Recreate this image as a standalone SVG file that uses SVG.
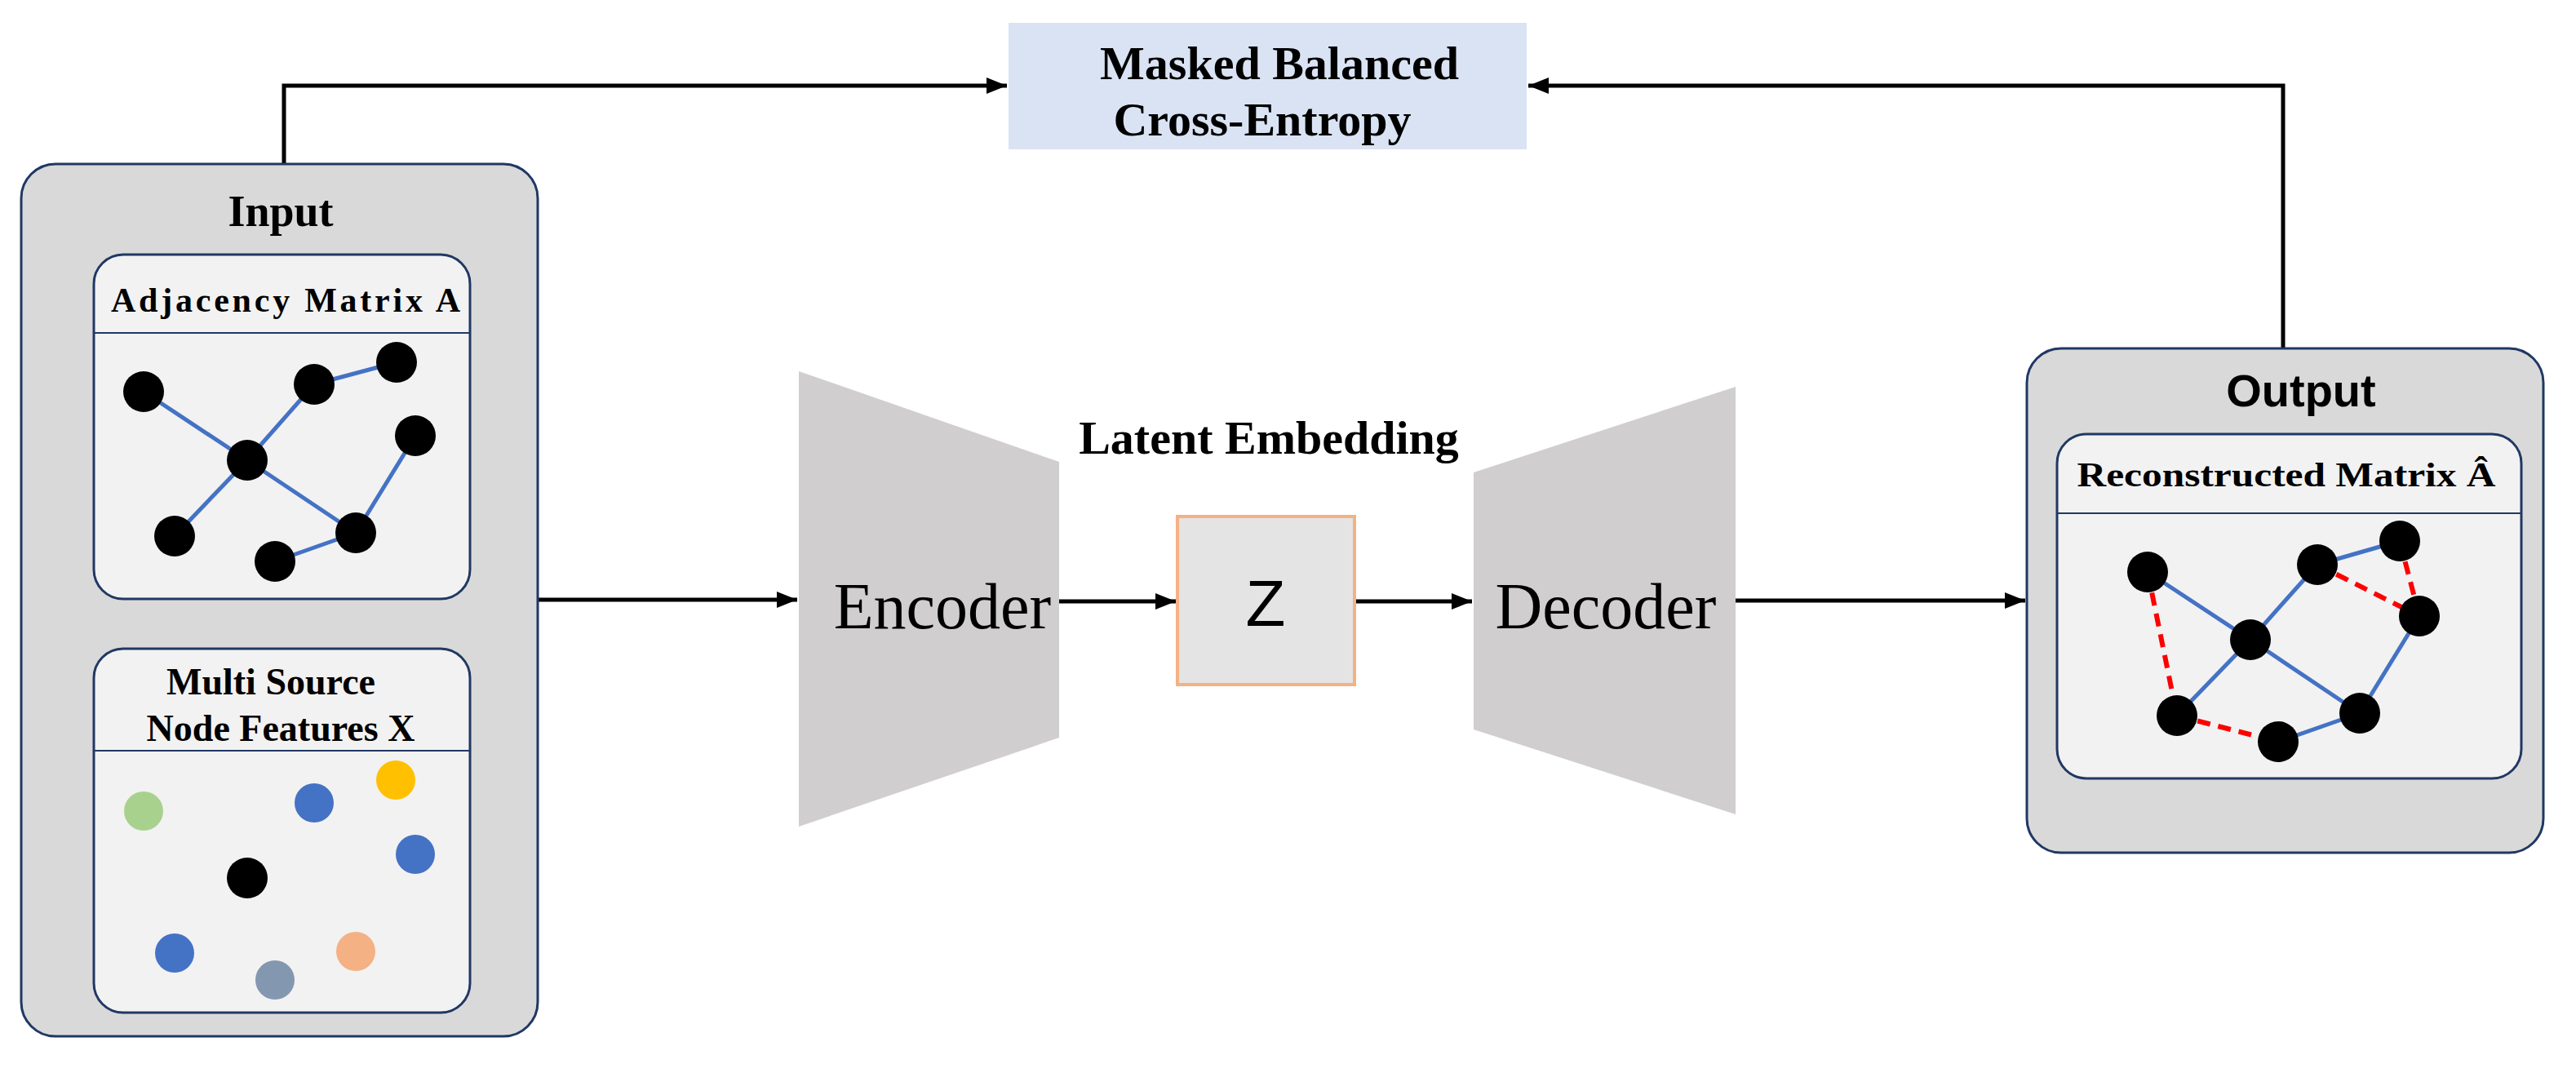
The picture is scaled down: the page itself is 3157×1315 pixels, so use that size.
<svg xmlns="http://www.w3.org/2000/svg" width="3157" height="1315" viewBox="0 0 3157 1315">
<style>
.outer{fill:#d9d9d9;stroke:#203864;stroke-width:3}
.inner{fill:#f2f2f2;stroke:#203864;stroke-width:3}
.hl{stroke:#203864;stroke-width:2}
.conn{fill:none;stroke:#000;stroke-width:5}
.be{stroke:#4472c4;stroke-width:5}
.re{stroke:#ff0000;stroke-width:6;stroke-dasharray:16 10}
.nd{fill:#000}
.serifb{font-family:"Liberation Serif",serif;font-weight:bold;fill:#000}
.trap{fill:#d0cece}
</style>
<defs>
<marker id="arr" viewBox="0 0 10 10" refX="10" refY="5" markerWidth="5" markerHeight="5" orient="auto" markerUnits="strokeWidth">
<path d="M0,1 L10,5 L0,9 z" fill="#000"/>
</marker>
</defs>
<g id="connectors">
<polyline class="conn" points="348,201 348,105 1234,105" marker-end="url(#arr)"/>
<polyline class="conn" points="2798,427 2798,105 1873,105" marker-end="url(#arr)"/>
<line class="conn" x1="659" y1="735" x2="977" y2="735" marker-end="url(#arr)"/>
<line class="conn" x1="1298" y1="737" x2="1441" y2="737" marker-end="url(#arr)"/>
<line class="conn" x1="1660" y1="737" x2="1804" y2="737" marker-end="url(#arr)"/>
<line class="conn" x1="2127" y1="736" x2="2482" y2="736" marker-end="url(#arr)"/>
</g>
<g id="loss">
<rect x="1236" y="28" width="635" height="155" fill="#dae3f3"/>
<text class="serifb" x="1568" y="97" font-size="58" text-anchor="middle">Masked Balanced</text>
<text class="serifb" x="1547" y="166" font-size="58" text-anchor="middle">Cross-Entropy</text>
</g>
<g id="input">
<rect class="outer" x="26" y="201" width="633" height="1069" rx="42"/>
<text class="serifb" x="344" y="277" font-size="54" text-anchor="middle">Input</text>
<g id="adjacency">
<rect class="inner" x="115" y="312" width="461" height="422" rx="36"/>
<line class="hl" x1="115" y1="408" x2="576" y2="408"/>
<text class="serifb" x="350" y="382" font-size="42" text-anchor="middle" textLength="428" lengthAdjust="spacing">Adjacency Matrix A</text>
<g>
<line class="be" x1="176" y1="480" x2="303" y2="564"/>
<line class="be" x1="303" y1="564" x2="385" y2="471"/>
<line class="be" x1="385" y1="471" x2="486" y2="444"/>
<line class="be" x1="303" y1="564" x2="214" y2="657"/>
<line class="be" x1="303" y1="564" x2="436" y2="653"/>
<line class="be" x1="436" y1="653" x2="509" y2="534"/>
<line class="be" x1="436" y1="653" x2="337" y2="688"/>
</g>
<g class="nd">
<circle cx="176" cy="480" r="25"/><circle cx="385" cy="471" r="25"/><circle cx="486" cy="444" r="25"/><circle cx="303" cy="564" r="25"/>
<circle cx="509" cy="534" r="25"/><circle cx="214" cy="657" r="25"/><circle cx="436" cy="653" r="25"/><circle cx="337" cy="688" r="25"/>
</g>
</g>
<g id="features">
<rect class="inner" x="115" y="795" width="461" height="446" rx="36"/>
<line class="hl" x1="115" y1="920" x2="576" y2="920"/>
<text class="serifb" x="332" y="851" font-size="46" text-anchor="middle">Multi Source</text>
<text class="serifb" x="344" y="908" font-size="46" text-anchor="middle">Node Features X</text>
<circle cx="176" cy="994" r="24" fill="#a9d18e"/>
<circle cx="385" cy="984" r="24" fill="#4472c4"/>
<circle cx="485" cy="956" r="24" fill="#ffc000"/>
<circle cx="509" cy="1047" r="24" fill="#4472c4"/>
<circle cx="303" cy="1076" r="25" fill="#000"/>
<circle cx="214" cy="1168" r="24" fill="#4472c4"/>
<circle cx="337" cy="1201" r="24" fill="#8497b0"/>
<circle cx="436" cy="1166" r="24" fill="#f4b183"/>
</g>
</g>
<g id="encoder">
<polygon class="trap" points="979,455 1298,566 1298,904 979,1013"/>
<text x="1155" y="770" font-family="Liberation Serif,serif" font-size="80" text-anchor="middle">Encoder</text>
</g>
<g id="latent">
<text class="serifb" x="1555" y="556" font-size="58" text-anchor="middle">Latent Embedding</text>
<rect x="1443" y="633" width="217" height="206" fill="#e4e4e4" stroke="#f4b183" stroke-width="4"/>
<text x="1551" y="767" font-family="Liberation Sans,sans-serif" font-size="80" text-anchor="middle">Z</text>
</g>
<g id="decoder">
<polygon class="trap" points="1806,579 2127,474 2127,998 1806,894"/>
<text x="1968" y="770" font-family="Liberation Serif,serif" font-size="80" text-anchor="middle">Decoder</text>
</g>
<g id="output">
<rect class="outer" x="2484" y="427" width="633" height="618" rx="42"/>
<text x="2820" y="498" font-family="Liberation Sans,sans-serif" font-weight="bold" font-size="56" text-anchor="middle">Output</text>
<g id="reconstructed">
<rect class="inner" x="2521" y="532" width="569" height="422" rx="36"/>
<line class="hl" x1="2521" y1="629" x2="3090" y2="629"/>
<text class="serifb" x="2802" y="596" font-size="42" text-anchor="middle" textLength="513" lengthAdjust="spacingAndGlyphs">Reconstructed Matrix Â</text>
<g>
<line class="be" x1="2632" y1="701" x2="2758" y2="784"/>
<line class="be" x1="2758" y1="784" x2="2840" y2="692"/>
<line class="be" x1="2840" y1="692" x2="2941" y2="663"/>
<line class="be" x1="2758" y1="784" x2="2668" y2="877"/>
<line class="be" x1="2758" y1="784" x2="2892" y2="874"/>
<line class="be" x1="2892" y1="874" x2="2965" y2="755"/>
<line class="be" x1="2892" y1="874" x2="2792" y2="909"/>
<line class="re" x1="2632" y1="701" x2="2668" y2="877"/>
<line class="re" x1="2668" y1="877" x2="2792" y2="909"/>
<line class="re" x1="2840" y1="692" x2="2965" y2="755"/>
<line class="re" x1="2941" y1="663" x2="2965" y2="755"/>
</g>
<g class="nd">
<circle cx="2632" cy="701" r="25"/><circle cx="2840" cy="692" r="25"/><circle cx="2941" cy="663" r="25"/><circle cx="2758" cy="784" r="25"/>
<circle cx="2965" cy="755" r="25"/><circle cx="2668" cy="877" r="25"/><circle cx="2892" cy="874" r="25"/><circle cx="2792" cy="909" r="25"/>
</g>
</g>
</g>
</svg>
